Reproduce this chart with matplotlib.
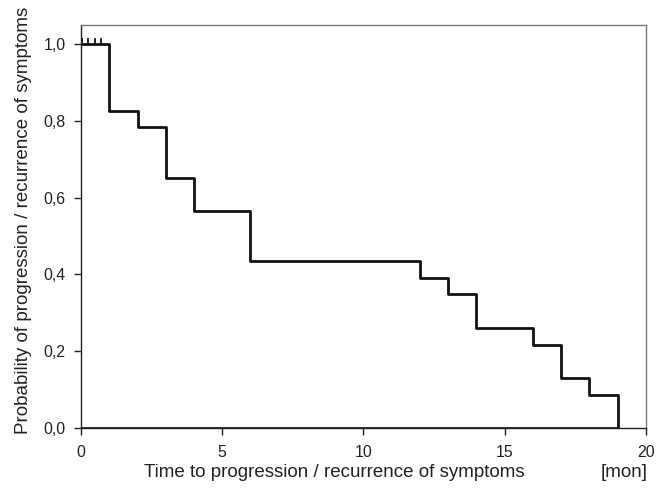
import matplotlib
matplotlib.use('Agg')
import matplotlib.pyplot as plt

# Kaplan-Meier step data (months, survival probability)
times = [0, 1, 2, 3, 4, 6, 12, 13, 14, 16, 17, 18, 19]
surv = [1.0, 0.826, 0.783, 0.652, 0.565, 0.435, 0.391, 0.348, 0.261, 0.217, 0.130, 0.087, 0.0]
censored = [0.05, 0.25, 0.48, 0.7]

xticks = [0, 5, 10, 15, 20]
yticks = [0.0, 0.2, 0.4, 0.6, 0.8, 1.0]
ytick_labels = ['0,0', '0,2', '0,4', '0,6', '0,8', '1,0']

plt.rcParams['font.family'] = ['Liberation Sans', 'DejaVu Sans']

fig = plt.figure(figsize=(6.59, 4.88), dpi=100)
ax = fig.add_axes([0.123, 0.123, 0.857, 0.826])

ax.step(times, surv, where='post', color='#111111', linewidth=2.0)
ax.plot([0, 19], [0, 0], color='#111111', linewidth=1.2)
for c in censored:
    ax.plot([c, c], [1.0, 1.012], color='#111111', linewidth=1.3)

ax.set_xlim(0, 20)
ax.set_ylim(0, 1.05)
ax.set_xticks(xticks)
ax.set_xticklabels([str(t) for t in xticks])
ax.set_yticks(yticks)
ax.set_yticklabels(ytick_labels)
ax.tick_params(direction='out', length=5, width=1, labelsize=11.4, colors='#222222')
ax.tick_params(axis='x', pad=7)
ax.tick_params(axis='y', pad=6)

for s in ['top', 'right']:
    ax.spines[s].set_color('#777777')
    ax.spines[s].set_linewidth(1.0)
for s in ['left', 'bottom']:
    ax.spines[s].set_color('#222222')
    ax.spines[s].set_linewidth(1.0)

fig.text(0.508, 0.031, 'Time to progression / recurrence of symptoms', fontsize=13.5,
         color='#222222', ha='center', va='center')
fig.text(0.036, 0.549, 'Probability of progression / recurrence of symptoms', fontsize=13.5,
         color='#222222', ha='center', va='center', rotation=90)
fig.text(0.947, 0.031, '[mon]', fontsize=13.5, color='#222222', ha='center', va='center')

fig.savefig('out.png', dpi=100)
